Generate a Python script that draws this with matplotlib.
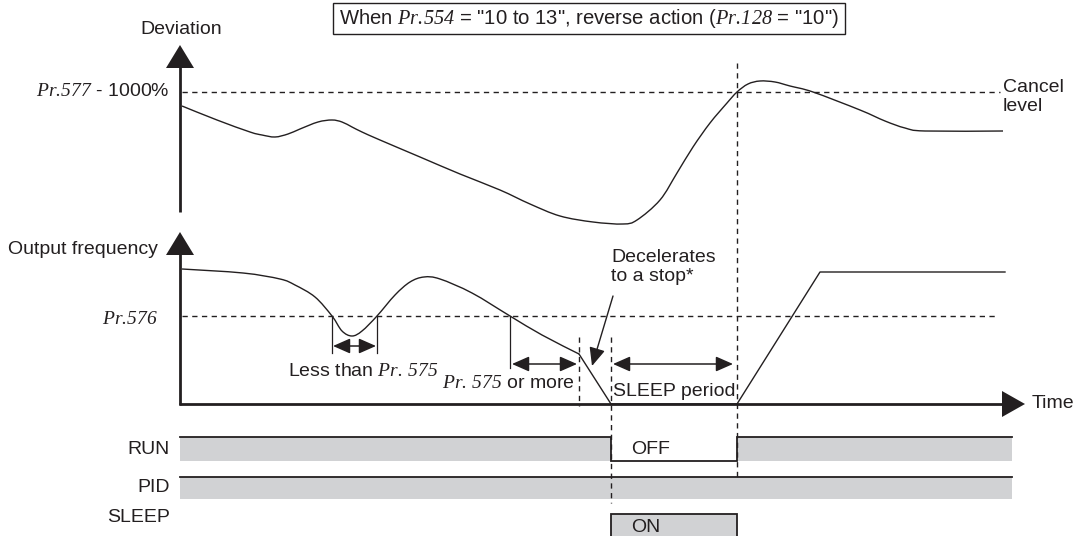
import matplotlib
matplotlib.use('Agg')
import matplotlib.pyplot as plt
import matplotlib.transforms as mtransforms
from matplotlib.patches import Rectangle, Polygon, PathPatch
from matplotlib.path import Path
import numpy as np

plt.rcParams['font.family'] = ['Liberation Sans', 'DejaVu Sans']
plt.rcParams['mathtext.fontset'] = 'custom'
plt.rcParams['mathtext.it'] = 'Liberation Serif:italic'
plt.rcParams['mathtext.rm'] = 'Liberation Serif:italic'

INK = '#231f20'
GRAY = '#d1d2d4'
FS = 14

# ---------------- data (time axis in diagram units, origin at the axes) ----------------
# Deviation curve (level measured upward from panel base)
dev_time = [2, 37, 70, 82, 95, 108, 120, 138, 152, 162, 172, 182, 200, 240, 280, 320,
            350, 380, 413, 443, 457, 480, 497, 513, 530, 547, 557, 568, 580, 595, 610,
            633, 680, 705, 725, 745, 823]
dev_level = [124, 110, 98, 95, 93, 96, 101, 108, 110, 108, 103, 98, 90, 73, 56, 40,
             26, 14, 8, 6, 10, 30, 57, 83, 107, 127, 138, 146, 149, 148, 144,
             138, 120, 109, 102, 99, 99]
cancel_level = 138

# Output frequency curve (level measured upward from the time axis)
freq_time = [2, 63, 100, 115, 135, 152, 162, 172, 182, 197, 215, 230, 244, 260, 292,
             330, 362, 399]
freq_level = [135, 131, 125, 119, 107, 88, 73, 68, 73, 88, 109, 122, 127, 125, 111,
              88, 69, 50]
# after the Pr.575 time: decelerate, sleep, restart
run_time = [399, 431, 557, 640, 825]
run_level = [50, 0, 0, 132, 132]
pr576_level = 88

# Events
t_pr575_start = 330      # frequency falls below Pr.576 and stays
t_decel = 399            # Pr.575 elapsed -> decelerate
t_sleep = 431            # stopped, SLEEP starts
t_wake = 557             # deviation reaches cancel level
t_less_a, t_less_b = 152, 197
t_end = 832

# Signals: edges and states (1 = ON)
run_edges = [0, t_sleep, t_wake, t_end]
run_states = [1, 0, 1]
pid_edges = [0, t_end]
pid_states = [1]
sleep_edges = [0, t_sleep, t_wake, t_end]
sleep_states = [0, 1, 0]

# ---------------- layout ----------------
X0 = 180
DEV_BASE = 230
FREQ_BASE = 404

fig = plt.figure(figsize=(10.75, 5.36), dpi=100)
ax = fig.add_axes([0, 0, 1, 1])
ax.set_xlim(0, 1075)
ax.set_ylim(536, 0)
ax.axis('off')

def panel(base):
    return mtransforms.Affine2D().scale(1, -1).translate(X0, base) + ax.transData

tdev = panel(DEV_BASE)
tfreq = panel(FREQ_BASE)

AX_LW = 2.0
CURVE_LW = 1.0
DASH = dict(color=INK, lw=1.0, dashes=(3.8, 3.2))

def smooth_path(xs, ys):
    """Catmull-Rom curve through the read points, as cubic Bezier segments."""
    p = np.column_stack([xs, ys]).astype(float)
    ext = np.vstack([p[0], p, p[-1]])
    verts = [p[0]]
    codes = [Path.MOVETO]
    for i in range(1, len(ext) - 2):
        p0, p1, p2, p3 = ext[i - 1], ext[i], ext[i + 1], ext[i + 2]
        verts += [p1 + (p2 - p0) / 6.0, p2 - (p3 - p1) / 6.0, p2]
        codes += [Path.CURVE4] * 3
    return Path(verts, codes)

# Deviation axis with arrow
ax.plot([X0, X0], [212, 66], color=INK, lw=AX_LW, solid_capstyle='butt')
ax.add_patch(Polygon([[X0, 45], [X0 - 14, 68], [X0 + 14, 68]], closed=True, color=INK, lw=0))
# Frequency axis with arrow
ax.plot([X0, X0], [FREQ_BASE + 1, 253], color=INK, lw=AX_LW, solid_capstyle='butt')
ax.add_patch(Polygon([[X0, 232], [X0 - 14, 255], [X0 + 14, 255]], closed=True, color=INK, lw=0))
# Time axis with arrow
ax.plot([X0 - 1, 1004], [FREQ_BASE, FREQ_BASE], color=INK, lw=AX_LW, solid_capstyle='butt')
ax.add_patch(Polygon([[1025, FREQ_BASE], [1002, FREQ_BASE - 13], [1002, FREQ_BASE + 13]],
                     closed=True, color=INK, lw=0))

# Level lines
ax.plot([2, 820], [cancel_level, cancel_level], transform=tdev, **DASH)
ax.plot([2, 817], [pr576_level, pr576_level], transform=tfreq, **DASH)

# Curves
ax.add_patch(PathPatch(smooth_path(dev_time, dev_level), transform=tdev, fill=False,
                       ec=INK, lw=CURVE_LW))
ax.add_patch(PathPatch(smooth_path(freq_time, freq_level), transform=tfreq, fill=False,
                       ec=INK, lw=CURVE_LW))
ax.plot(run_time, run_level, color=INK, lw=CURVE_LW, transform=tfreq)

# Vertical dashed event lines
ax.plot([X0 + t_wake] * 2, [63, 480], **DASH)
ax.plot([X0 + t_sleep] * 2, [337, 503], **DASH)
ax.plot([X0 + t_decel] * 2, [337, 406], **DASH)

# Pr.575 markers
thin = dict(color=INK, lw=0.9)
for t in (t_less_a, t_less_b):
    ax.plot([t, t], [pr576_level, 51], transform=tfreq, **thin)
ax.plot([t_pr575_start] * 2, [pr576_level, 36], transform=tfreq, **thin)

arr = dict(arrowstyle='<|-|>,head_length=0.75,head_width=0.33', color=INK, lw=1.1,
           shrinkA=0, shrinkB=0, mutation_scale=14)
ax.annotate('', xy=(t_less_b - 1, 58), xytext=(t_less_a + 1, 58),
            xycoords=tfreq, textcoords=tfreq, arrowprops=arr)
ax.annotate('', xy=(t_decel - 2, 40), xytext=(t_pr575_start + 2, 40),
            xycoords=tfreq, textcoords=tfreq, arrowprops=arr)
ax.annotate('', xy=(t_wake - 4, 40), xytext=(t_sleep + 2, 40),
            xycoords=tfreq, textcoords=tfreq, arrowprops=arr)
ax.annotate('', xy=(592, 366), xytext=(613, 296),
            arrowprops=dict(arrowstyle='-|>,head_length=0.8,head_width=0.35', color=INK,
                            lw=1.0, shrinkA=0, shrinkB=0, mutation_scale=14))

# Signals
def draw_signal(edges, states, y_top, y_bot):
    ranges = [(X0 + edges[i], edges[i + 1] - edges[i])
              for i, s in enumerate(states) if s]
    ax.broken_barh(ranges, (y_top, y_bot - y_top), facecolors=GRAY, edgecolors='none')
    xs, ys = [], []
    for i, s in enumerate(states):
        y = y_top if s else y_bot
        xs += [X0 + edges[i], X0 + edges[i + 1]]
        ys += [y, y]
    ax.plot(xs, ys, color=INK, lw=1.3, solid_joinstyle='miter')

draw_signal(run_edges, run_states, 437, 461)
draw_signal(pid_edges, pid_states, 477, 499)
draw_signal(sleep_edges, sleep_states, 514, 545)

# ---------------- texts ----------------
def pr(s):
    # italic serif parameter name, without mathtext's extra space after the dot
    return r'$\mathrm{' + s.replace('.', r'.\!') + '}$'

tk = dict(color=INK, fontsize=FS)
ax.add_patch(Rectangle((333, 3), 512, 31, fill=False, ec=INK, lw=1.0))
ax.text(589, 19, 'When ' + pr('Pr.554') + ' = "10 to 13", reverse action (' + pr('Pr.128')
        + ' = "10")', ha='center', va='center', color=INK, fontsize=14.6)
ax.text(181, 30, 'Deviation', ha='center', va='center', **tk)
ax.text(170, 92, pr('Pr.577') + ' - 1000%', ha='right', va='center', **tk)
ax.text(1003, 97, 'Cancel\nlevel', ha='left', va='center', linespacing=1.2, **tk)
ax.text(158, 249, 'Output frequency', ha='right', va='center', **tk)
ax.text(158, 320, pr('Pr.576'), ha='right', va='center', **tk)
ax.text(363, 371, 'Less than ' + pr(r'Pr.\ 575'), ha='center', va='center', **tk)
ax.text(575, 384, pr(r'Pr.\ 575') + ' or more', ha='right', va='center', **tk)
ax.text(611, 267, 'Decelerates\nto a stop*', ha='left', va='center', linespacing=1.2, **tk)
ax.text(613, 391, 'SLEEP period', ha='left', va='center', **tk)
ax.text(1032, 404, 'Time', ha='left', va='center', **tk)
ax.text(170, 449, 'RUN', ha='right', va='center', **tk)
ax.text(170, 488, 'PID', ha='right', va='center', **tk)
ax.text(170, 518, 'SLEEP', ha='right', va='center', **tk)
ax.text(631, 450, 'OFF', ha='left', va='center', **tk)
ax.text(631, 527, 'ON', ha='left', va='center', **tk)

fig.savefig('out.png', dpi=100)
